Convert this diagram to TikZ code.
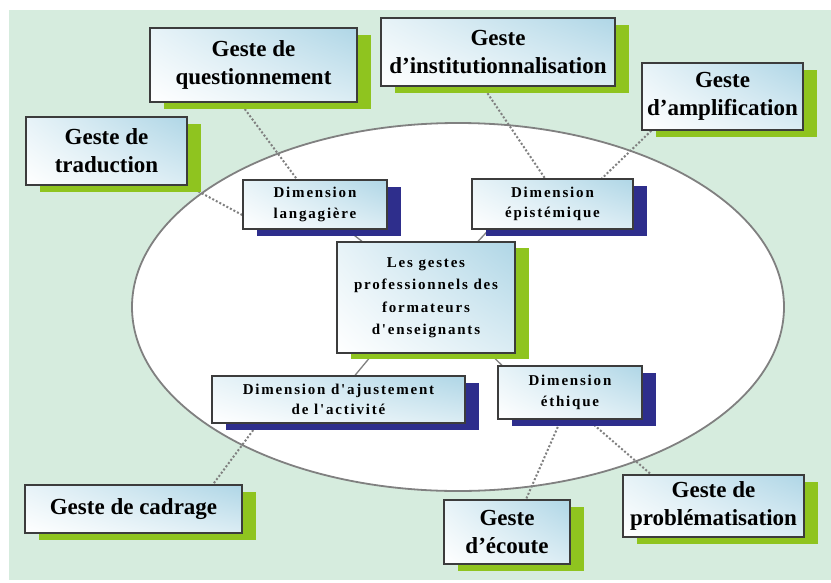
\documentclass[tikz,border=0pt]{standalone}
\usepackage{fontspec}
\setmainfont{Liberation Serif}
\newfontfamily\dimfont[LetterSpace=12,Ligatures=TeXOff]{Liberation Serif}
\usetikzlibrary{shadows,shadings,calc}
\pgfdeclarelayer{bg}
\pgfdeclarelayer{conn}
\pgfsetlayers{bg,conn,main}
\definecolor{bgcol}{RGB}{214,236,222}
\definecolor{shgreen}{RGB}{143,196,31}
\definecolor{shblue}{RGB}{46,46,140}
\definecolor{boxblue}{RGB}{175,214,230}
\definecolor{edgecol}{RGB}{60,60,60}
\definecolor{linegray}{RGB}{128,128,128}
\tikzset{
 boxbase/.style={draw=edgecol, line width=1.3pt, align=center, inner sep=2pt,
   upper left=boxblue!30!white, upper right=boxblue, lower left=white, lower right=boxblue!45!white},
 gbox/.style={boxbase, drop shadow={shadow xshift=14pt, shadow yshift=-7pt, fill=shgreen, opacity=1, draw=none},
   font=\fontsize{23}{28}\selectfont\bfseries},
 bbox/.style={boxbase, drop shadow={shadow xshift=14pt, shadow yshift=-7pt, fill=shblue, opacity=1, draw=none},
   font=\dimfont\fontsize{15}{20.5}\selectfont\bfseries},
 cbox/.style={boxbase, drop shadow={shadow xshift=14pt, shadow yshift=-6pt, fill=shgreen, opacity=1, draw=none},
   font=\dimfont\fontsize{15}{22.5}\selectfont\bfseries},
 dotline/.style={draw=linegray, line width=2pt, dotted},
 solidline/.style={draw=linegray, line width=1.3pt},
}
\begin{document}
\begin{tikzpicture}[x=1pt,y=-1pt]
\useasboundingbox (0,0) rectangle (831,582);
\begin{pgfonlayer}{bg}
 \fill[bgcol] (9,10) rectangle (831,580);
 \draw[draw=linegray, fill=white, line width=1.8pt] (458,307) ellipse [x radius=326pt, y radius=184pt];
\end{pgfonlayer}

% outer gestures (green)
\node[gbox, minimum width=207pt, minimum height=74pt] (quest) at (253.5,65) {Geste de\\questionnement};
\node[gbox, minimum width=161pt, minimum height=68pt] (trad) at (106.5,151) {Geste de\\traduction};
\node[gbox, minimum width=234pt, minimum height=68pt] (inst) at (498,52) {Geste\\d’institutionnalisation};
\node[gbox, minimum width=161pt, minimum height=67pt] (ampl) at (722.5,96.5) {Geste\\d’amplification};
\node[gbox, minimum width=217pt, minimum height=48pt] (cadr) at (133.5,509) {Geste de cadrage};
\node[gbox, minimum width=126pt, minimum height=64pt] (ecou) at (507,532) {Geste\\d’écoute};
\node[gbox, minimum width=181pt, minimum height=62pt] (prob) at (713.5,506) {Geste de\\problématisation};

% dimensions (blue)
\node[bbox, minimum width=144pt, minimum height=49pt] (lang) at (315,204.5) {Dimension\\langagière};
\node[bbox, minimum width=161pt, minimum height=50pt] (epis) at (552.5,204) {Dimension\\épistémique};
\node[bbox, minimum width=253pt, minimum height=47pt] (ajus) at (338.5,399.5) {Dimension d'ajustement\\de l'activité};
\node[bbox, minimum width=144pt, minimum height=53pt] (ethi) at (570,392.5) {Dimension\\éthique};

% centre
\node[cbox, minimum width=178pt, minimum height=111pt] (centre) at (426,297.5) {Les gestes\\professionnels des\\formateurs\\d'enseignants};

\begin{pgfonlayer}{conn}
 \draw[dotline] ([xshift=-13.5pt]quest.south) -- ([xshift=-18pt]lang.north);
 \draw[dotline] (trad.south east) -- ([yshift=-10.5pt]lang.west);
 \draw[dotline] ([xshift=-15pt]inst.south) -- ([xshift=-7.5pt]epis.north);
 \draw[dotline] ([xshift=10pt]ampl.south west) -- ([xshift=49.5pt]epis.north);
 \draw[dotline] ([xshift=-80.5pt]ajus.south) -- ([xshift=79.5pt]cadr.north);
 \draw[dotline] ([xshift=-9pt]ethi.south) -- ([xshift=19pt]ecou.north);
 \draw[dotline] ([xshift=18pt]ethi.south) -- ([xshift=-62.5pt]prob.north);
 \draw[solidline] ([xshift=32pt]lang.south) -- ([xshift=-64pt]centre.north);
 \draw[solidline] ([xshift=-63.5pt]epis.south) -- ([xshift=52pt]centre.north);
 \draw[solidline] ([xshift=-53pt]centre.south) -- ([xshift=16.5pt]ajus.north);
 \draw[solidline] ([xshift=64pt]centre.south) -- ([xshift=-68pt]ethi.north);
\end{pgfonlayer}
\end{tikzpicture}
\end{document}
